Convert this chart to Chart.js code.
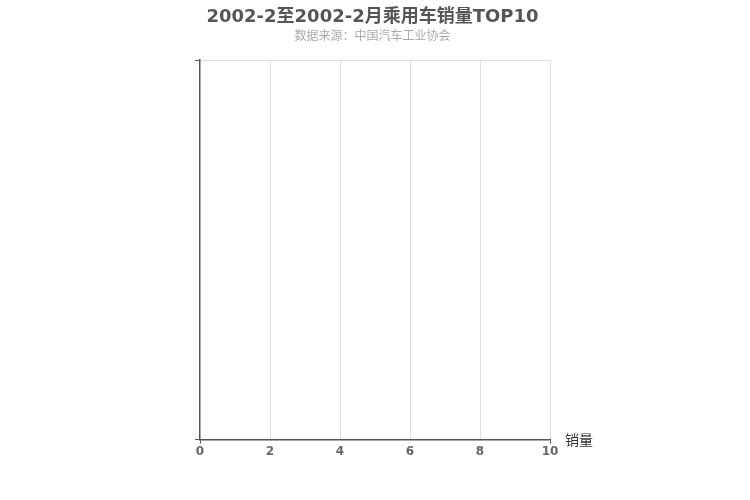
<!DOCTYPE html>
<html>
<head>
<meta charset="utf-8">
<title>TOP10</title>
<script src="https://cdn.jsdelivr.net/npm/chart.js@4/dist/chart.umd.min.js"></script>
<style>
  html, body { margin: 0; padding: 0; background: #fff; }
  #chart { display: block; }
</style>
</head>
<body>
<canvas id="chart" width="750" height="500"></canvas>
<script>
// 数据：该期间无记录，所以分类和数值都是空的
const brands = [];
const sales = [];
const xTicks = [0, 2, 4, 6, 8, 10];
const yTicks = [0, 1];

const titleText = '2002-2至2002-2月乘用车销量TOP10';
const subtitleText = '数据来源：中国汽车工业协会';
const axisName = '销量';

const axisNamePlugin = {
    id: 'axisName',
    afterDraw(chart) {
        const x = chart.scales.x;
        const ctx = chart.ctx;
        ctx.save();
        ctx.font = '14px "Noto Sans CJK SC", "DejaVu Sans", sans-serif';
        ctx.fillStyle = '#333';
        ctx.textAlign = 'left';
        ctx.textBaseline = 'middle';
        ctx.fillText(axisName, x.right + 15, x.top);
        ctx.restore();
    }
};

new Chart(document.getElementById('chart').getContext('2d'), {
    type: 'bar',
    data: {
        labels: brands,
        datasets: [
            { label: axisName, data: sales, backgroundColor: '#c23531' }
        ]
    },
    options: {
        indexAxis: 'y',
        responsive: false,
        animation: false,
        layout: { padding: { left: 195, right: 200, top: 0, bottom: 40 } },
        plugins: {
            legend: { display: false },
            tooltip: { enabled: false },
            title: {
                display: true,
                text: titleText,
                color: '#555',
                font: { family: '"DejaVu Sans", "Noto Sans CJK SC", sans-serif', size: 18, weight: 'bold' },
                padding: { top: 7, bottom: 1 }
            },
            subtitle: {
                display: true,
                text: subtitleText,
                color: '#aaa',
                font: { family: '"DejaVu Sans", "Noto Sans CJK SC", sans-serif', size: 12 },
                padding: { top: 0, bottom: 16 }
            }
        },
        scales: {
            x: {
                type: 'linear',
                min: 0,
                max: 10,
                afterBuildTicks: scale => { scale.ticks = xTicks.map(v => ({ value: v })); },
                grid: {
                    color: ctx => ctx.index === 0 ? 'rgba(0,0,0,0)' : '#ddd',
                    tickColor: ctx => (ctx.index === 0 || ctx.index === xTicks.length - 1) ? '#555' : 'rgba(0,0,0,0)',
                    tickLength: 4
                },
                border: { color: '#555', width: 1.5 },
                ticks: {
                    color: '#666',
                    padding: 1,
                    font: { family: '"DejaVu Sans", sans-serif', size: 12, weight: 'bold' }
                }
            },
            y: {
                type: 'linear',
                min: 0,
                max: 1,
                offset: false,
                afterBuildTicks: scale => { scale.ticks = yTicks.map(v => ({ value: v })); },
                ticks: { display: false },
                grid: {
                    offset: false,
                    color: ctx => ctx.tick && ctx.tick.value === 1 ? '#ddd' : 'rgba(0,0,0,0)',
                    tickColor: '#555',
                    tickLength: 5
                },
                border: { color: '#555', width: 1.5 }
            }
        }
    },
    plugins: [axisNamePlugin]
});
</script>
</body>
</html>
